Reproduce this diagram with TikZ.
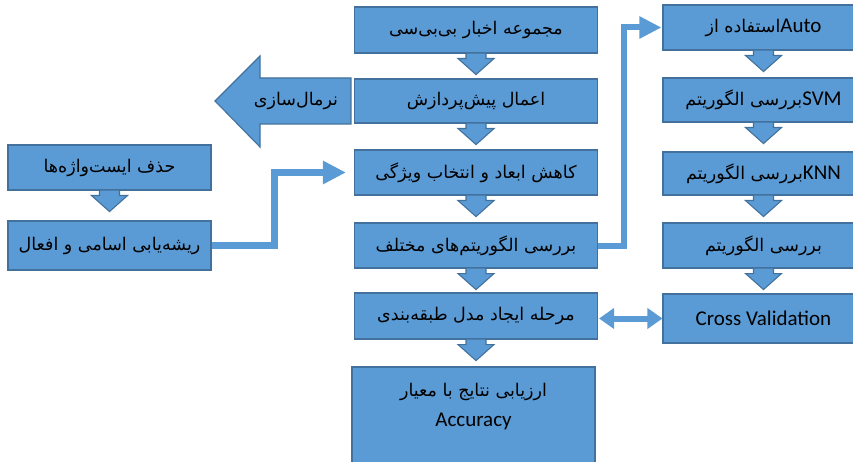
\documentclass[tikz,border=0pt]{standalone}
\usepackage{fontspec}
\usetikzlibrary{calc,arrows.meta}
\TeXXeTstate=1
\newfontfamily\fa[Script=Arabic]{DejaVu Sans}
\newfontfamily\lat{Carlito}
\definecolor{boxfill}{HTML}{5B9BD5}
\definecolor{boxline}{HTML}{41719C}
\newcommand\fatext[1]{{\fa\beginR #1\endR}}
\newcommand\dnarr[1]{\draw[blk] ($(#1.south)+(-10,-0.5)$) -- ($(#1.south)+(-10,5)$) -- ($(#1.south)+(-18,5)$) -- ($(#1.south)+(0,21)$) -- ($(#1.south)+(18,5)$) -- ($(#1.south)+(10,5)$) -- ($(#1.south)+(10,-0.5)$) -- cycle;}
\tikzset{
  box/.style={draw=boxline, fill=boxfill, line width=1.1pt, inner sep=0pt, text=black, font=\fontsize{17.5}{20}\selectfont},
  cbox/.style={box, minimum width=243pt},
  rbox/.style={box, minimum width=201pt},
  lbox/.style={box, minimum width=203pt},
  blk/.style={draw=boxline, fill=boxfill, line width=1.1pt, line join=miter},
  conn/.style={draw=boxfill, line width=7pt},
}
\begin{document}
\begin{tikzpicture}[x=1pt,y=-1pt]
\useasboundingbox (0,0) rectangle (853,462);
% center column
\node[cbox, minimum height=46pt] (b1) at (476,30) {\fatext{مجموعه اخبار بی‌بی‌سی}};
\node[cbox, minimum height=44pt] (b2) at (476,101) {\fatext{اعمال پیش‌پردازش}};
\node[cbox, minimum height=45pt] (b3) at (476,172.5) {\fatext{کاهش ابعاد و انتخاب ویژگی}};
\node[cbox, minimum height=45pt] (b4) at (476,245.5) {\fatext{بررسی الگوریتم‌های مختلف}};
\node[cbox, minimum height=46pt] (b5) at (476,316) {\fatext{مرحله ایجاد مدل طبقه‌بندی}};
\node[box, minimum width=243pt, minimum height=110pt] (b6) at (473.5,422) {};
\node[align=center, font=\fontsize{17.5}{30}\selectfont] (t6) at (473.5,407) {\fatext{ارزیابی نتایج با معیار}\\{\lat\fontsize{21}{30}\selectfont Accuracy}};
% right column
\node[rbox, minimum height=45pt] (r1) at (763.5,27.5) {\fatext{استفاده از}{\lat\fontsize{21}{24}\selectfont Auto}};
\node[rbox, minimum height=44pt] (r2) at (763.5,100) {\fatext{بررسی الگوریتم}{\lat\fontsize{21}{24}\selectfont SVM}};
\node[rbox, minimum height=43pt] (r3) at (763.5,173.5) {\fatext{بررسی الگوریتم}{\lat\fontsize{21}{24}\selectfont KNN}};
\node[rbox, minimum height=45pt] (r4) at (763.5,245.5) {\fatext{بررسی الگوریتم}};
\node[rbox, minimum height=49pt] (r5) at (763.5,318.5) {{\lat\fontsize{21}{24}\selectfont Cross Validation}};
% left column
\node[lbox, minimum height=45pt] (l1) at (109.5,167.5) {\fatext{حذف ایست‌واژه‌ها}};
\node[lbox, minimum height=49pt] (l2) at (109.5,245.5) {\fatext{ریشه‌یابی اسامی و افعال}};
% block arrows down
\dnarr{b1}
\dnarr{b2}
\dnarr{b3}
\dnarr{b4}
\dnarr{b5}
\dnarr{r1}
\dnarr{r2}
\dnarr{r3}
\dnarr{r4}
\dnarr{l1}
% normalisation arrow
\draw[blk] ($(b2.west)+(-3,-23)$) -- (260,78) -- (260,56) -- (215,101) -- (260,147) -- (260,124) -- ($(b2.west)+(-3,23)$) -- cycle;
\node[font=\fontsize{17.5}{20}\selectfont] (norm) at (296,101) {\fatext{نرمال‌سازی}};
% connectors
\draw[conn, -{Triangle[length=23pt,width=22pt]}, shorten >=8pt] (l2.east) -- (274.5,245.5) -- (274.5,172.5) -- (b3.west);
\draw[conn, line width=6pt, -{Triangle[length=22pt,width=21pt]}, shorten >=1pt] (b4.east) -- (624,245.5) |- (r1.west);
\draw[conn, line width=6pt, {Triangle[length=15pt,width=20pt]}-{Triangle[length=15pt,width=20pt]}, shorten <=1pt] (b5.east |- r5.west) -- (r5.west);
\end{tikzpicture}
\end{document}
